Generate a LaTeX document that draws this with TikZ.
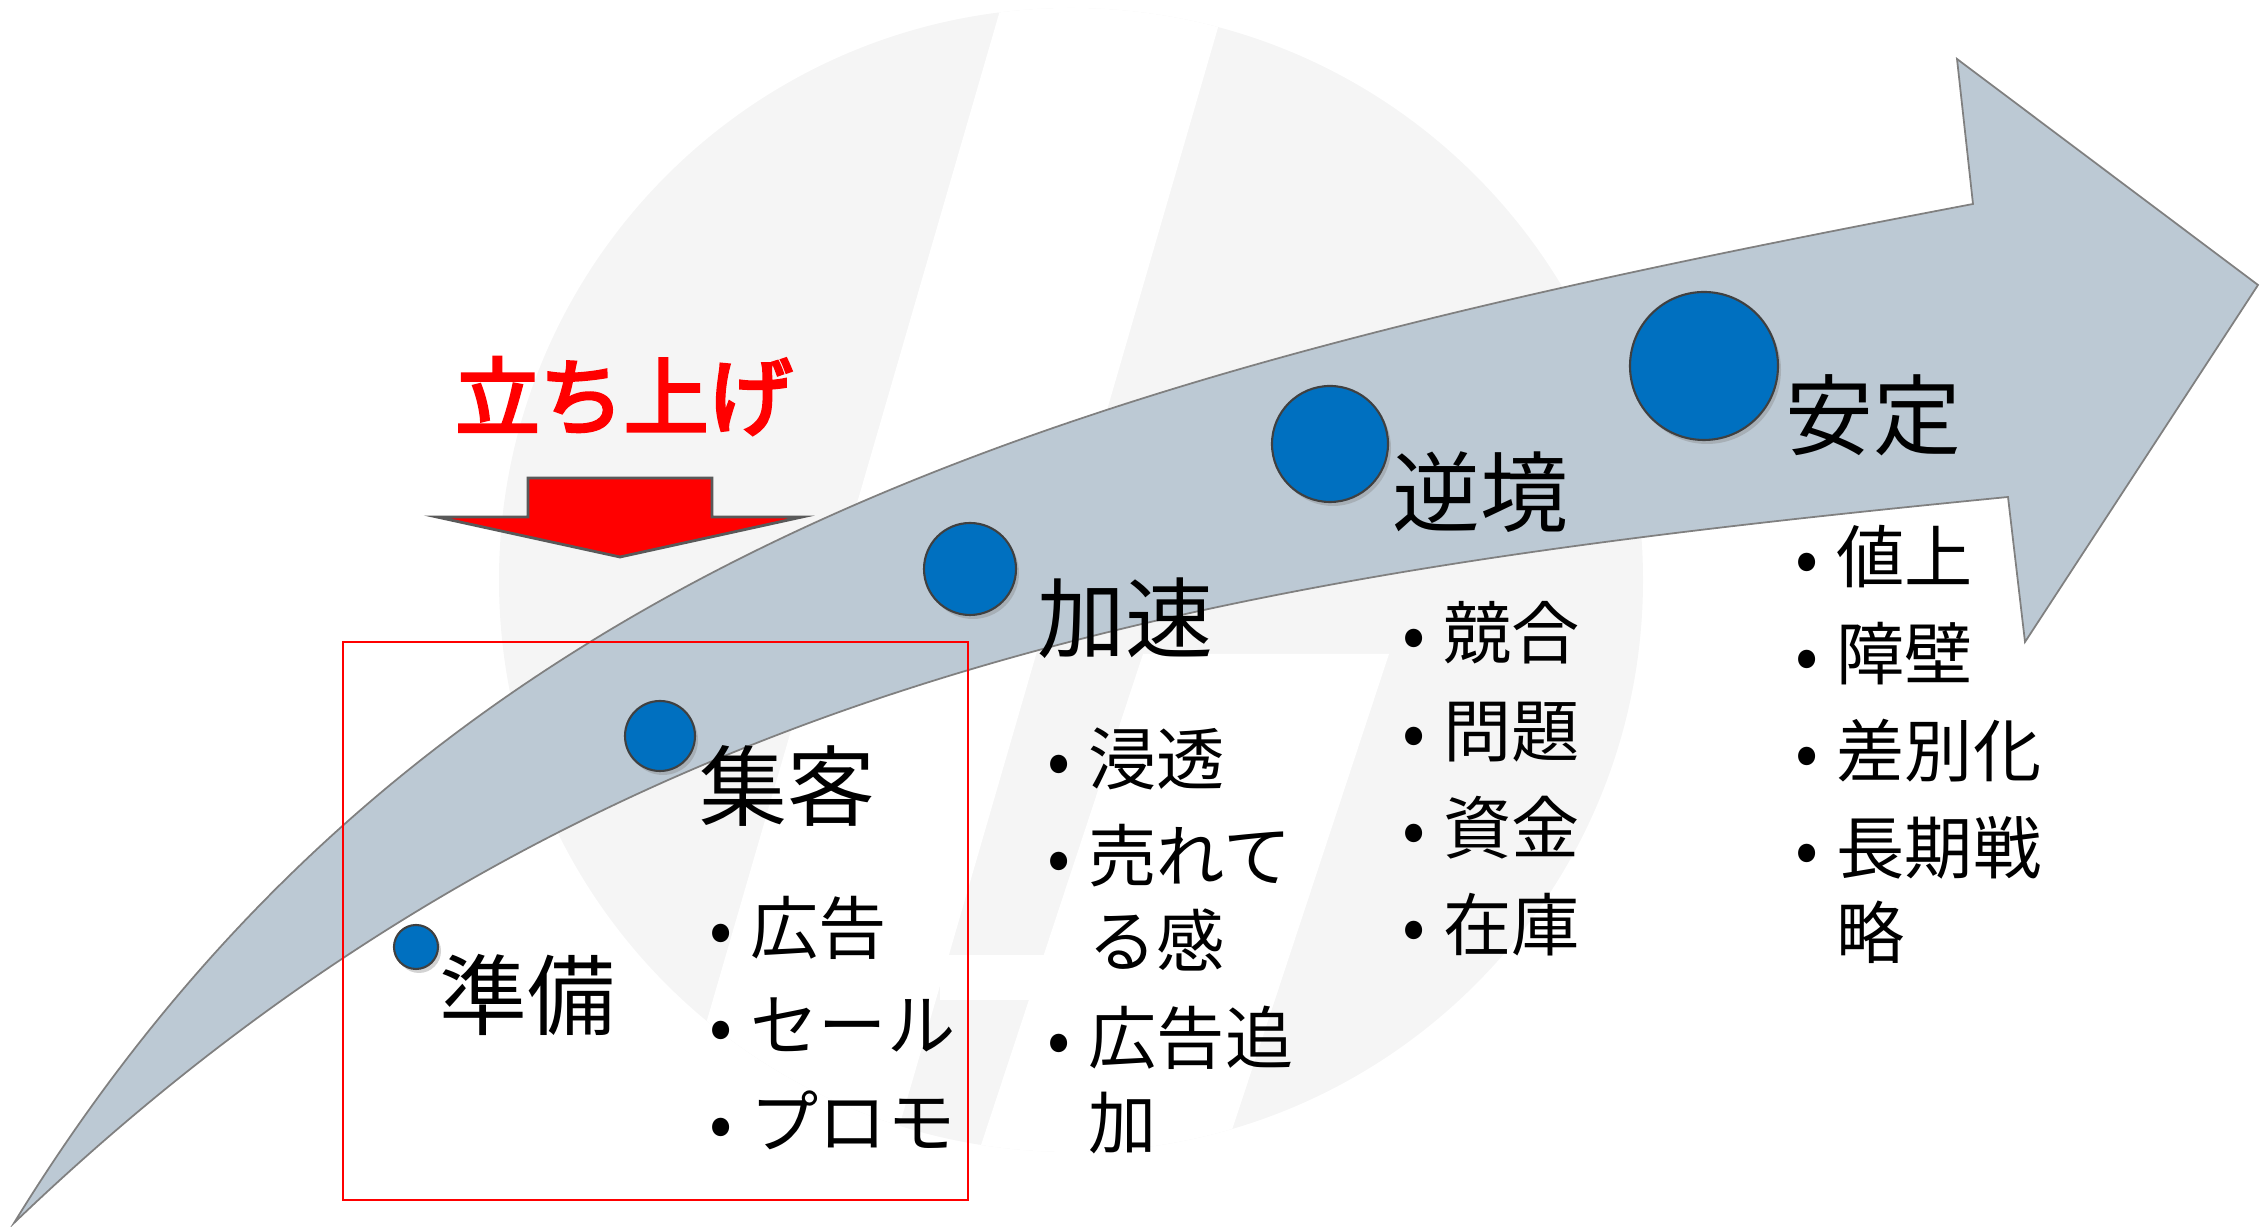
\documentclass[tikz,border=0pt]{standalone}
\usepackage{fontspec}
\setmainfont{Noto Sans CJK JP}
\newfontfamily\risefont[FakeBold=4]{Noto Sans CJK JP}
\usepackage{tikz}
\usetikzlibrary{positioning,shadows}
\definecolor{shaftgray}{RGB}{188,201,212}
\definecolor{edgegray}{RGB}{128,128,128}
\definecolor{dotblue}{RGB}{0,112,192}
\definecolor{wmgray}{RGB}{245,245,245}
\tikzstyle{stagedot}=[circle, draw=black!75, fill=dotblue, line width=0.6pt, inner sep=0pt,
                      drop shadow={opacity=0.35, shadow xshift=0.03cm, shadow yshift=-0.04cm}]
\tikzstyle{stagelbl}=[inner sep=0pt, font=\fontsize{25}{30}\selectfont]
\tikzstyle{itemlist}=[inner sep=0pt, align=left, font=\fontsize{19.4}{24.2}\selectfont]
\tikzstyle{bigarrow}=[fill=shaftgray, draw=edgegray, line width=0.5pt]
\tikzstyle{redframe}=[draw=red, line width=0.6pt]
\tikzstyle{risetext}=[inner sep=0pt, text=red, font=\fontsize{24}{28}\selectfont\risefont]
\tikzstyle{downarrow}=[fill=red, draw=black!65, line width=0.8pt]
\newcommand{\itm}{\makebox[0.6cm][c]{•}}
\newcommand{\itmcont}{\hspace*{0.6cm}}

\begin{document}
\begin{tikzpicture}[node distance=0mm]
\useasboundingbox (0,0) rectangle (22.62,12.27);

\fill[wmgray] (10.71,6.47) circle (5.72);
\begin{scope}
\clip (10.71,6.47) circle (5.72);
\fill[white] (10.03,12.27) -- (12.26,12.27) -- (8.70,0) -- (6.47,0) -- cycle;
\fill[white] (11.43,5.73) -- (13.89,5.73) -- (12.00,0) -- (9.54,0) -- cycle;
\fill[white] (9.40,2.72) -- (10.50,2.72) -- (10.50,2.27) -- (9.40,2.27) -- cycle;
\end{scope}

\draw[bigarrow] (0.14,0.04) .. controls (4.33,6.86) and (10.89,8.55) .. (19.73,10.23)
   -- (19.57,11.68) -- (22.58,9.42) -- (20.25,5.85) -- (20.08,7.30)
   .. controls (12.12,6.52) and (5.90,5.56) .. (0.14,0.04) -- cycle;

\draw[redframe] (3.43,0.27) rectangle (9.68,5.85);

\node (JUNBI) [stagedot, minimum size=0.44cm] at (4.16,2.80) {};
\node (SHUKYAKU) [stagedot, minimum size=0.70cm] at (6.60,4.91) {};
\node (KASOKU) [stagedot, minimum size=0.92cm] at (9.70,6.58) {};
\node (GYAKKYO) [stagedot, minimum size=1.16cm] at (13.30,7.83) {};
\node (ANTEI) [stagedot, minimum size=1.48cm] at (17.04,8.61) {};

\node (JUNBIL) [stagelbl, right=0cm of JUNBI, yshift=-0.48cm] {準備};
\node (SHUKYAKUL) [stagelbl, right=0.03cm of SHUKYAKU, yshift=-0.50cm] {集客};
\node (KASOKUL) [stagelbl, right=0.2cm of KASOKU, yshift=-0.49cm] {加速};
\node (GYAKKYOL) [stagelbl, right=0.03cm of GYAKKYO, yshift=-0.48cm] {逆境};
\node (ANTEIL) [stagelbl, right=0.06cm of ANTEI, yshift=-0.49cm] {安定};

\node (SHUKYAKUTX) [itemlist, below right=0.68cm and -0.09cm of SHUKYAKUL.south west]
  {\itm 広告\\[0.12cm]\itm セール\\[0.12cm]\itm プロモ};
\node (KASOKUTX) [itemlist, below right=0.68cm and -0.09cm of KASOKUL.south west]
  {\itm 浸透\\[0.12cm]\itm 売れて\\\itmcont る感\\[0.12cm]\itm 広告追\\\itmcont 加};
\node (GYAKKYOTX) [itemlist, below right=0.68cm and -0.09cm of GYAKKYOL.south west]
  {\itm 競合\\[0.12cm]\itm 問題\\[0.12cm]\itm 資金\\[0.12cm]\itm 在庫};
\node (ANTEITX) [itemlist, below right=0.68cm and -0.09cm of ANTEIL.south west]
  {\itm 値上\\[0.12cm]\itm 障壁\\[0.12cm]\itm 差別化\\[0.12cm]\itm 長期戦\\\itmcont 略};

\node (TACHIAGE) [risetext] at (6.24,8.31) {立ち上げ};
\draw[downarrow] (5.28,7.49) -- (7.12,7.49) -- (7.12,7.10) -- (8.02,7.10)
   -- (6.20,6.70) -- (4.37,7.10) -- (5.28,7.10) -- cycle;

\end{tikzpicture}
\end{document}
